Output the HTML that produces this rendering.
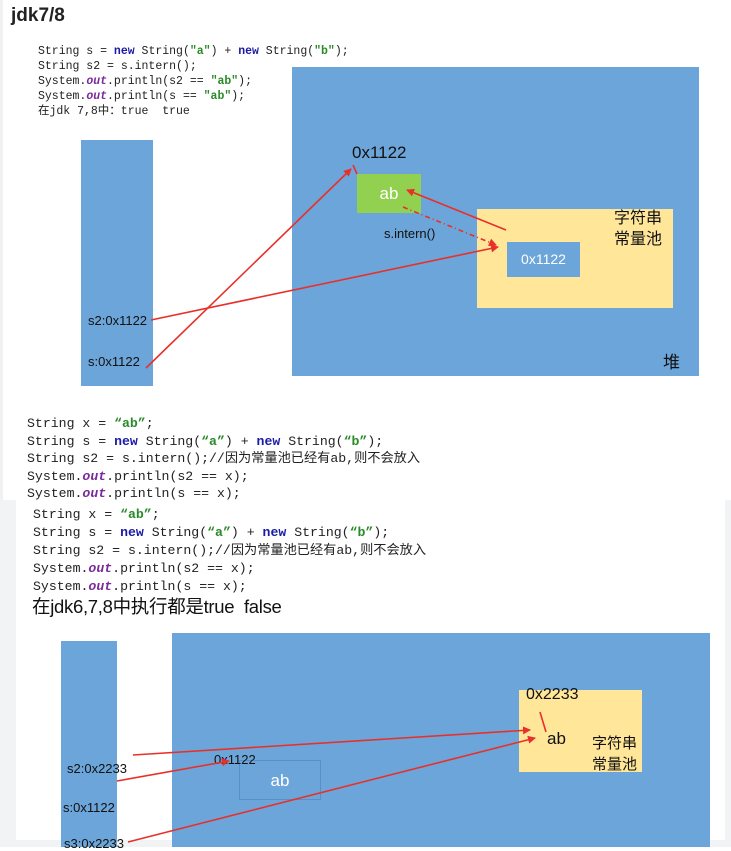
<!DOCTYPE html>
<html><head><meta charset="utf-8"><style>
body{margin:0;width:731px;height:847px;position:relative;overflow:hidden;background:#fff;font-family:"Liberation Sans","Noto Sans CJK SC",sans-serif}
.a{position:absolute;white-space:nowrap}
.code{font-family:"Liberation Mono","Noto Sans CJK SC",monospace;color:#222}
.k{color:#1a1aa6;font-weight:bold}.s{color:#2a8a2a;font-weight:bold}.o{color:#7a2a9a;font-weight:bold;font-style:italic}
.blue{background:#6ca5d9;position:absolute}
</style></head><body>
<div class="a" style="left:0;top:0;width:3px;height:500px;background:#f0f1f3"></div>
<div class="a" style="left:11px;top:5px;font-size:19px;font-weight:bold;color:#222">jdk7/8</div>
<div class="a code" style="left:38px;top:44px;font-size:11.5px;line-height:15px">String s = <span class="k">new</span> String(<span class="s">"a"</span>) + <span class="k">new</span> String(<span class="s">"b"</span>);<br>String s2 = s.intern();<br>System.<span class="o">out</span>.println(s2 == <span class="s">"ab"</span>);<br>System.<span class="o">out</span>.println(s == <span class="s">"ab"</span>);<br>在jdk 7,8中：true&nbsp; true</div>
<div class="blue" style="left:292px;top:67px;width:407px;height:309px"></div>
<div class="blue" style="left:81px;top:140px;width:72px;height:246px"></div>
<div class="a" style="left:352px;top:143px;font-size:17px;color:#111">0x1122</div>
<div class="a" style="left:357px;top:174px;width:64px;height:39px;background:#92d050;color:#fff;font-size:17px;text-align:center;line-height:39px">ab</div>
<div class="a" style="left:477px;top:209px;width:196px;height:99px;background:#ffe699"></div>
<div class="a" style="left:507px;top:242px;width:73px;height:35px;background:#6ca5d9;color:#fff;font-size:14px;text-align:center;line-height:35px">0x1122</div>
<div class="a" style="left:614px;top:208px;font-size:16px;line-height:21px;color:#111">字符串<br>常量池</div>
<div class="a" style="left:663px;top:348px;font-size:17px;color:#111">堆</div>
<div class="a" style="left:384px;top:226px;font-size:13px;color:#111">s.intern()</div>
<div class="a" style="left:88px;top:313px;font-size:13px;color:#111">s2:0x1122</div>
<div class="a" style="left:88px;top:354px;font-size:13px;color:#111">s:0x1122</div>

<div class="a code" style="left:27px;top:415px;font-size:13.2px;line-height:17.5px">String x = <span class="s">“ab”</span>;<br>String s = <span class="k">new</span> String(<span class="s">“a”</span>) + <span class="k">new</span> String(<span class="s">“b”</span>);<br>String s2 = s.intern();//因为常量池已经有ab,则不会放入<br>System.<span class="o">out</span>.println(s2 == x);<br>System.<span class="o">out</span>.println(s == x);</div>

<div class="a" style="left:0;top:500px;width:731px;height:347px;background:#f2f3f5"></div>
<div class="a" style="left:16px;top:500px;width:709px;height:340px;background:#fff"></div>
<div class="a code" style="left:33px;top:506px;font-size:13.2px;line-height:18px">String x = <span class="s">“ab”</span>;<br>String s = <span class="k">new</span> String(<span class="s">“a”</span>) + <span class="k">new</span> String(<span class="s">“b”</span>);<br>String s2 = s.intern();//因为常量池已经有ab,则不会放入<br>System.<span class="o">out</span>.println(s2 == x);<br>System.<span class="o">out</span>.println(s == x);</div>
<div class="a" style="left:32px;top:593px;font-size:18.5px;color:#111;letter-spacing:-0.3px">在jdk6,7,8中执行都是true&nbsp; false</div>
<div class="blue" style="left:172px;top:633px;width:538px;height:214px"></div>
<div class="blue" style="left:61px;top:641px;width:56px;height:206px"></div>
<div class="a" style="left:519px;top:690px;width:123px;height:82px;background:#ffe699"></div>
<div class="a" style="left:526px;top:686px;font-size:16px;color:#111">0x2233</div>
<div class="a" style="left:547px;top:729px;font-size:17px;color:#111">ab</div>
<div class="a" style="left:592px;top:733px;font-size:15px;line-height:21px;color:#111">字符串<br>常量池</div>
<div class="a" style="left:239px;top:760px;width:82px;height:40px;border:1px solid #5a8fc5;box-sizing:border-box;color:#fff;font-size:17px;text-align:center;line-height:40px">ab</div>
<div class="a" style="left:214px;top:752px;font-size:13px;color:#111">0x1122</div>
<div class="a" style="left:67px;top:761px;font-size:13px;color:#111">s2:0x2233</div>
<div class="a" style="left:63px;top:800px;font-size:13px;color:#111">s:0x1122</div>
<div class="a" style="left:64px;top:836px;font-size:13px;color:#111">s3:0x2233</div>

<svg class="a" style="left:0;top:0" width="731" height="847">
<defs><marker id="m" markerWidth="8" markerHeight="8" refX="7" refY="4" orient="auto" markerUnits="userSpaceOnUse"><path d="M0,0L8,4L0,8z" fill="#e8302a"/></marker></defs>
<g stroke="#e8302a" stroke-width="1.6" fill="none">
<line x1="151" y1="320" x2="498" y2="247" marker-end="url(#m)"/>
<line x1="146" y1="368" x2="351" y2="169" marker-end="url(#m)"/>
<line x1="506" y1="230" x2="407" y2="190" marker-end="url(#m)"/>
<line x1="403" y1="207" x2="496" y2="245" stroke-dasharray="5,3,1,3" marker-end="url(#m)"/>
<line x1="353" y1="165" x2="357" y2="174"/>
<line x1="133" y1="755" x2="530" y2="730" marker-end="url(#m)"/>
<line x1="117" y1="781" x2="229" y2="761" marker-end="url(#m)"/>
<line x1="128" y1="842" x2="535" y2="738" marker-end="url(#m)"/>
<line x1="540" y1="712" x2="546" y2="732"/>
</g></svg>
</body></html>
